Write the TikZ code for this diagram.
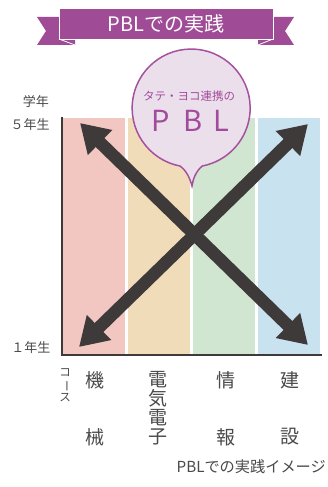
\documentclass[tikz,border=0pt]{standalone}
\usepackage{fontspec}
\setmainfont{Noto Sans CJK JP}
\usetikzlibrary{arrows.meta}
\definecolor{banner}{HTML}{A04B96}
\definecolor{bubfill}{HTML}{ECDFEC}
\definecolor{bubline}{HTML}{A5519F}
\definecolor{bubtext}{HTML}{A24B9C}
\definecolor{colR}{HTML}{F2C7C1}
\definecolor{colO}{HTML}{F1DCB9}
\definecolor{colG}{HTML}{D0E6D0}
\definecolor{colB}{HTML}{C9E2EF}
\definecolor{arr}{HTML}{3E3A39}
\definecolor{txt}{HTML}{4A4A4A}
\begin{document}
\begin{tikzpicture}[x=1pt,y=-1pt,
  lbl/.style={text=txt,inner sep=0pt,font=\fontsize{13}{13}\selectfont},
  course/.style={text=txt,inner sep=0pt,font=\fontsize{19}{19}\selectfont,align=center},
  bigarrow/.style={draw=arr,line width=12.5pt,{Triangle[length=28pt,width=33pt]}-{Triangle[length=28pt,width=33pt]}},
  axis/.style={draw=arr,line width=2pt}]
\useasboundingbox (0,0) rectangle (328,487);
\fill[white] (0,0) rectangle (328,487);
% banner
\fill[banner] (37,17) -- (75,17) -- (75,45) -- (37,45) -- (46,31) -- cycle;
\fill[banner] (294,17) -- (258,17) -- (258,45) -- (294,45) -- (285,31) -- cycle;
\draw[white,line width=0.8pt] (59,39) -- (75,45);
\draw[white,line width=0.8pt] (273,39) -- (258,45);
\node[draw=white,line width=0.8pt,fill=banner,minimum width=214pt,minimum height=31pt,inner sep=0pt,
  text=white,font=\fontsize{20}{20}\selectfont] (title) at (166,23.5) {PBLでの実践};
% columns
\fill[colR] (63,118) rectangle (125,354);
\fill[colO] (128,118) rectangle (190,354);
\fill[colG] (193,118) rectangle (255,354);
\fill[colB] (258,118) rectangle (320,354);
% axes
\coordinate (otop) at (62,117);
\coordinate (orig) at (62,355);
\coordinate (xend) at (322,355);
\draw[axis] (otop) -- (orig) -- (xend);
% arrows
\coordinate (tl) at (80,123);
\coordinate (br) at (308,345);
\coordinate (tr) at (308,124);
\coordinate (bl) at (79,347);
\draw[bigarrow] (tl) -- (br);
\draw[bigarrow] (bl) -- (tr);
% bubble
\filldraw[fill=bubfill,draw=bubline,line width=1.5pt]
  (180,166) arc[start angle=100.9,end angle=439.1,radius=59]
  .. controls (196,171) and (193,179) .. (192,186)
  .. controls (190,179) and (187,171) .. (180,166) -- cycle;
\node[text=bubtext,inner sep=0pt,font=\fontsize{11.5}{11.5}\selectfont] (sub) at (189,96) {タテ・ヨコ連携の};
\node[text=bubtext,inner sep=0pt,font=\fontsize{29}{29}\selectfont] (pbl) at (190,121) {P\hspace{0.5em}B\hspace{0.35em}L};
% axis labels
\node[lbl] (gakunen) at (36,102) {学年};
\node[lbl] (g5) at (30,125) {５年生};
\node[lbl] (g1) at (31,348) {１年生};
\node[lbl,font=\fontsize{11.5}{11.5}\selectfont] (k1) at (65,373) {コ};
\node[lbl,font=\fontsize{11.5}{11.5}\selectfont,rotate=-90] (k2) at (65,386) {ー};
\node[lbl,font=\fontsize{11.5}{11.5}\selectfont] (k3) at (65,398) {ス};
% courses
\node[course] (c1a) at (95,380) {機};
\node[course] (c1b) at (95,437) {械};
\node[course] (c2) at (158,408.5) {電\\気\\電\\子};
\node[course] (c3a) at (226,380) {情};
\node[course] (c3b) at (226,437) {報};
\node[course] (c4a) at (290,380) {建};
\node[course] (c4b) at (290,437) {設};
\node[text=txt,inner sep=0pt,anchor=east,font=\fontsize{15.2}{15.2}\selectfont] (cap) at (326,467) {PBLでの実践イメージ};
\end{tikzpicture}
\end{document}
